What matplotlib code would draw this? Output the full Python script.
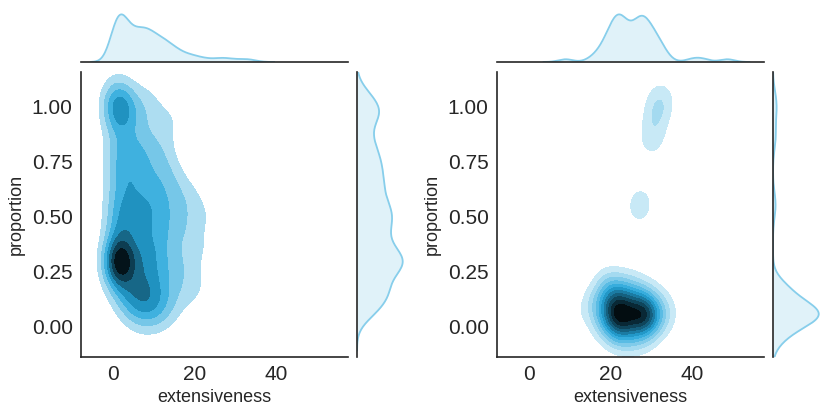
import colorsys
import numpy as np
import matplotlib
matplotlib.use("Agg")
import matplotlib.pyplot as plt
import matplotlib.colors as mcolors

plt.rcParams['font.family'] = ['Liberation Sans', 'DejaVu Sans']

# left panel: estimated observations, one line per proportion band
left_ext = [3.5, 5.2, 6.5, 7.5, 8.6, 9.6, 10.6, 12, 14,
            1.2, 2.4, 3.2, 4.2, 5.0, 5.8, 6.6, 7.4, 8.2, 9.0, 9.8, 10.8, 12, 13.5, 15.5, 18, 21,
            0.3, 0.8, 1.2, 1.0, 1.6, 2.0, 2.4, 2.8, 3.5, 1.5, 5.5, 6.5, 7.3, 8.4, 9.3, 10.5, 11.8, 13.2, 15, 17, 19.5, 27,
            0.2, 0.7, 1.2, 1.0, 1.5, 1.8, 2.1, 2.5, 3.3, 1.4, 5.6, 6.6, 7.6, 8.6, 9.5, 10.7, 11.7, 13.3, 16, 19.5, 29, 23,
            0.4, 1.1, 1.8, 2.6, 3.6, 4.6, 5.7, 6.8, 7.8, 8.9, 10, 11.6, 13.4, 15.2, 17.3, 19.2, 32, 25.5,
            0.3, 1.2, 2.2, 3.2, 4.4, 5.6, 6.8, 8.0, 9.2, 10.5, 12, 13.5, 15, 17, 19, 21.5, 34,
            0.4, 1.3, 2.4, 3.6, 4.8, 6.0, 7.3, 8.6, 10.0, 11.5, 13, 15, 16, 33, 27.5,
            0.3, 1.2, 2.2, 3.3, 4.5, 5.7, 7.0, 8.5, 10.2, 12.4, 13, 23, 30,
            0.5, 1.6, 2.8, 4.2, 5.8, 7.8, 10.0, 12.8, 26,
            0.2, 0.7, 1.2, 1.8, 2.5, 3.5, 5, 7, 9, 12, 15,
            0.1, 0.6, 1.1, 1.7, 2.4, 0.5, 4.0, 8]
left_prop = [0.10, 0.07, 0.04, 0.09, 0.05, 0.08, 0.04, 0.08, 0.06,
             0.19, 0.16, 0.12, 0.18, 0.13, 0.17, 0.11, 0.15, 0.19, 0.12, 0.16, 0.13, 0.18, 0.12, 0.16, 0.14, 0.17,
             0.27, 0.23, 0.29, 0.26, 0.25, 0.28, 0.22, 0.26, 0.29, 0.31, 0.27, 0.21, 0.28, 0.22, 0.25, 0.29, 0.21, 0.27, 0.24, 0.28, 0.23, 0.26,
             0.34, 0.31, 0.37, 0.32, 0.30, 0.35, 0.32, 0.38, 0.33, 0.27, 0.31, 0.36, 0.33, 0.38, 0.32, 0.36, 0.34, 0.39, 0.31, 0.37, 0.38, 0.35,
             0.44, 0.48, 0.42, 0.47, 0.44, 0.49, 0.42, 0.47, 0.44, 0.49, 0.43, 0.48, 0.42, 0.46, 0.43, 0.47, 0.42, 0.49,
             0.55, 0.52, 0.57, 0.53, 0.58, 0.51, 0.56, 0.53, 0.58, 0.52, 0.56, 0.51, 0.57, 0.54, 0.59, 0.53, 0.52,
             0.63, 0.68, 0.62, 0.67, 0.63, 0.69, 0.62, 0.66, 0.61, 0.67, 0.63, 0.68, 0.62, 0.68, 0.66,
             0.74, 0.78, 0.72, 0.77, 0.71, 0.75, 0.79, 0.73, 0.77, 0.72, 0.76, 0.74, 0.79,
             0.86, 0.82, 0.88, 0.84, 0.81, 0.87, 0.83, 0.86, 0.90,
             0.97, 0.94, 0.99, 0.95, 0.98, 0.93, 0.97, 0.95, 0.99, 0.96, 0.94,
             1.02, 1.00, 1.04, 1.01, 1.06, 1.08, 1.03, 1.05]

# right panel: estimated observations (main cluster, tails, two upper groups)
right_ext = [17, 18, 18.5, 19, 19.5, 20, 20, 20.5, 21, 21, 21.5, 21.5, 22, 22, 22, 22.5,
             22.5, 23, 23, 23.5, 24, 24, 24.5, 25, 25.5, 29.5, 26, 26, 26.5, 27, 27, 27.5,
             27.5, 28, 28, 28.5, 28.5, 29, 29, 22.5, 29.8, 20.5, 31, 32, 33.5,
             9, 15.5, 40, 42.5, 48.5,
             29.8, 30.6, 31.0, 32.0, 32.4,
             26.9, 27.4]
right_prop = [0.08, 0.00, 0.16, 0.06, 0.20, 0.02, 0.12, 0.07, -0.02, 0.09, 0.05, 0.15, 0.04, 0.08, -0.04, 0.05,
              0.11, 0.02, 0.06, 0.18, 0.00, 0.13, 0.06, -0.06, 0.10, 0.03, 0.04, 0.17, -0.01, 0.06, 0.11, 0.02,
              0.08, 0.05, -0.05, 0.09, 0.02, 0.14, 0.04, -0.03, 0.07, 0.16, 0.01, 0.10, 0.05,
              0.04, 0.10, 0.20, -0.08, 0.03,
              0.83, 0.89, 0.96, 1.00, 1.05,
              0.52, 0.58]

x_ticks = [0, 20, 40]
y_ticks = [0.00, 0.25, 0.50, 0.75, 1.00]
x_label = "extensiveness"
y_label = "proportion"

color = "skyblue"
text_color = "#262626"


def joint_cmap(c):
    # white -> color hue -> black, same idea as old seaborn jointplot
    h, l, s = colorsys.rgb_to_hls(*mcolors.to_rgb(c))
    cols = [colorsys.hls_to_rgb(h, li, s) for li in np.linspace(1, 0, 12)]
    return mcolors.LinearSegmentedColormap.from_list("joint", cols)


def kde1d(vals, bw, grid):
    vals = np.asarray(vals, dtype=float)
    d = np.exp(-0.5 * ((grid[:, None] - vals[None, :]) / bw) ** 2).sum(axis=1)
    return d / (len(vals) * bw * np.sqrt(2 * np.pi))


def kde2d(xs, ys, bx, by, gx, gy):
    X, Y = np.meshgrid(gx, gy)
    z = np.zeros_like(X)
    for x0, y0 in zip(xs, ys):
        z += np.exp(-0.5 * (((X - x0) / bx) ** 2 + ((Y - y0) / by) ** 2))
    return X, Y, z / (len(xs) * 2 * np.pi * bx * by)


def draw_panel(fig, left, xs, ys, n_bands, bw2d, bw1d):
    W, H = 832.0, 416.0
    xlim = (-7.8, 57.5)
    ylim = (-0.14, 1.155)

    ax = fig.add_axes([left / W, 59 / H, 267 / W, 285 / H])
    ax_top = fig.add_axes([left / W, 354 / H, 267 / W, 50 / H])
    ax_right = fig.add_axes([(left + 276) / W, 59 / H, 48 / W, 285 / H])

    # joint density, lowest band left empty
    gx = np.linspace(xlim[0], xlim[1], 300)
    gy = np.linspace(ylim[0], ylim[1], 300)
    X, Y, z = kde2d(xs, ys, bw2d[0], bw2d[1], gx, gy)
    levels = np.linspace(0, z.max(), n_bands + 1)
    norm = mcolors.Normalize(vmin=levels[0], vmax=levels[-1])
    ax.contourf(X, Y, z, levels=levels[1:], cmap=joint_cmap(color), norm=norm)

    ax.set_xlim(xlim)
    ax.set_ylim(ylim)
    ax.set_xticks(x_ticks)
    ax.set_yticks(y_ticks)
    ax.set_yticklabels([f"{v:.2f}" for v in y_ticks])
    ax.tick_params(length=0, labelsize=15, labelcolor=text_color, pad=6)
    ax.set_xlabel(x_label, fontsize=13, color=text_color, labelpad=3)
    ax.set_ylabel(y_label, fontsize=13, color=text_color, labelpad=5)
    for side in ["top", "right"]:
        ax.spines[side].set_visible(False)
    for side in ["left", "bottom"]:
        ax.spines[side].set_color(text_color)
        ax.spines[side].set_linewidth(1.2)

    # marginal x
    xs_a = np.asarray(xs, dtype=float)
    mx = np.linspace(xs_a.min() - 3 * bw1d[0], xs_a.max() + 3 * bw1d[0], 200)
    dx = kde1d(xs_a, bw1d[0], mx)
    ax_top.fill_between(mx, 0, dx, color=color, alpha=0.25, lw=0)
    ax_top.plot(mx, dx, color=color, lw=1.3)
    ax_top.set_xlim(xlim)
    ax_top.set_ylim(0, dx.max() * 1.05)

    # marginal y
    ys_a = np.asarray(ys, dtype=float)
    my = np.linspace(ys_a.min() - 3 * bw1d[1], ys_a.max() + 3 * bw1d[1], 200)
    dy = kde1d(ys_a, bw1d[1], my)
    ax_right.fill_betweenx(my, 0, dy, color=color, alpha=0.25, lw=0)
    ax_right.plot(dy, my, color=color, lw=1.3)
    ax_right.set_ylim(ylim)
    ax_right.set_xlim(0, dy.max() * 1.05)

    for a, keep in [(ax_top, "bottom"), (ax_right, "left")]:
        a.set_xticks([])
        a.set_yticks([])
        for side in ["top", "right", "bottom", "left"]:
            a.spines[side].set_visible(side == keep)
        a.spines[keep].set_color(text_color)
        a.spines[keep].set_linewidth(1.2)
        a.patch.set_alpha(0)


fig = plt.figure(figsize=(8.32, 4.16), dpi=100)
draw_panel(fig, 81, left_ext, left_prop, 8, (2.6, 0.07), (1.8, 0.05))
draw_panel(fig, 497, right_ext, right_prop, 12, (2.5, 0.06), (1.8, 0.045))
fig.savefig("out.png", dpi=100)
